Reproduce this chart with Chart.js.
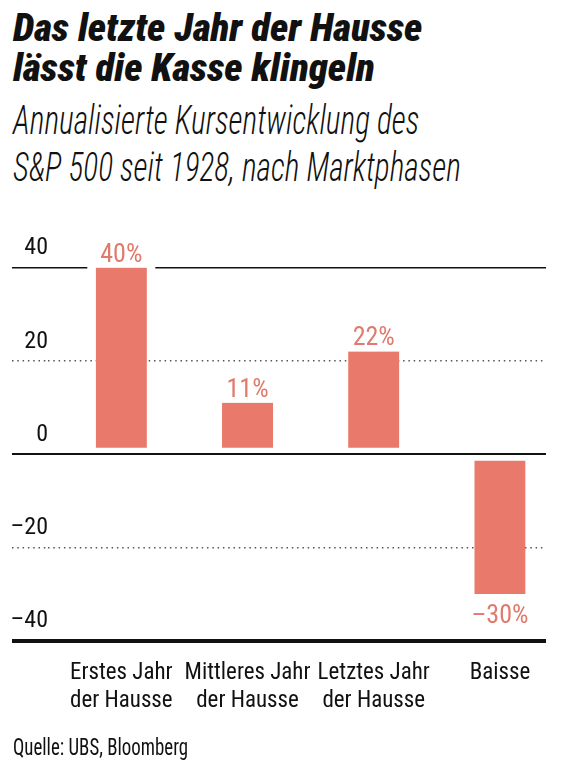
<!DOCTYPE html>
<html lang="de">
<head>
<meta charset="utf-8">
<script src="https://cdn.jsdelivr.net/npm/chart.js@4"></script>
<style>
  html, body { margin: 0; padding: 0; background: #fff; }
  body { width: 588px; height: 771px; position: relative; overflow: hidden;
         font-family: 'Roboto Condensed', 'Roboto', sans-serif; color: #111; }
  .line { position: absolute; left: 13px; white-space: nowrap; transform-origin: 0 50%; }
  .title { font-family: 'Roboto', sans-serif; font-stretch: 75%; font-size: 39px; line-height: 39px;
           font-weight: 900; font-style: italic; }
  .sub { font-family: 'Roboto', sans-serif; font-stretch: 75%; font-size: 40px; line-height: 40px;
         font-weight: 350; font-style: italic; transform: scaleX(0.785); }
  .source { font-size: 23px; line-height: 23px; transform: scaleX(0.82); }
  #wrap { position: absolute; left: 0; top: 200px; width: 588px; height: 540px; }
</style>
</head>
<body>
<div class="line title" style="top:8.9px">Das letzte Jahr der Hausse</div>
<div class="line title" style="top:48.9px">lässt die Kasse klingeln</div>
<div class="line sub" style="top:101.3px">Annualisierte Kursentwicklung des</div>
<div class="line sub" style="top:148px">S&amp;P 500 seit 1928, nach Marktphasen</div>
<div id="wrap"><canvas id="chart"></canvas></div>
<div class="line source" style="top:735.6px">Quelle: UBS, Bloomberg</div>

<script>
const categories = [
  ['Erstes Jahr', 'der Hausse'],
  ['Mittleres Jahr', 'der Hausse'],
  ['Letztes Jahr', 'der Hausse'],
  ['Baisse']
];
const values = [40, 11, 22, -30];
const yTicks = [-40, -20, 0, 20, 40];

const FONT = "'Roboto Condensed', 'Roboto', sans-serif";
const BAR = '#e8796b';
const LABEL = '#e07a6d';

function signed(value) {
  return value < 0 ? '\u2013' + Math.abs(value) : String(value);
}

function isDotted(ctx) {
  return ctx.tick && Math.abs(ctx.tick.value) === 20;
}

function ruleWidth(ctx) {
  if (!ctx.tick) return 1;
  const v = ctx.tick.value;
  if (v === -40) return 4;
  if (v === 0) return 2;
  return 1.5;
}

// value labels with a white box behind, so the rule at 40 breaks around the label
const valueLabels = {
  id: 'valueLabels',
  beforeDatasetsDraw(chart) {
    const ctx = chart.ctx;
    ctx.save();
    ctx.fillStyle = '#fff';
    chart.getDatasetMeta(0).data.forEach((bar, i) => {
      if (values[i] >= 0) ctx.fillRect(bar.x - 34, bar.y - 30, 68, 32);
      else ctx.fillRect(bar.x - 34, bar.y + 2, 68, 32);
    });
    ctx.restore();
  },
  afterDatasetsDraw(chart) {
    const ctx = chart.ctx;
    ctx.save();
    ctx.fillStyle = LABEL;
    ctx.font = '26px ' + FONT;
    ctx.textAlign = 'center';
    ctx.textBaseline = 'alphabetic';
    chart.getDatasetMeta(0).data.forEach((bar, i) => {
      const text = signed(values[i]) + '%';
      const y = values[i] >= 0 ? bar.y - 6 : bar.y + 29;
      ctx.fillText(text, bar.x, y);
    });
    ctx.restore();
  }
};

new Chart(document.getElementById('chart'), {
  type: 'bar',
  data: {
    datasets: [{
      data: values.map((v, i) => ({ x: i, y: v })),
      backgroundColor: BAR,
      borderColor: 'transparent',
      borderSkipped: false,
      borderWidth: (ctx) => {
        const v = ctx.parsed ? ctx.parsed.y : 0;
        return v >= 0 ? { top: 0, right: 0, bottom: 5.7, left: 0 } : { top: 6, right: 0, bottom: 0, left: 0 };
      },
      barThickness: 51
    }]
  },
  options: {
    responsive: true,
    maintainAspectRatio: false,
    animation: false,
    layout: { padding: { top: 67.5, right: 42, bottom: 19.25, left: 12 } },
    plugins: { legend: { display: false }, tooltip: { enabled: false } },
    scales: {
      x: {
        type: 'linear',
        offset: false,
        min: -0.581,
        max: 3.365,
        afterFit: (scale) => { scale.height = 80; },
        grid: { display: false, drawTicks: false },
        border: { display: false },
        ticks: {
          stepSize: 1,
          includeBounds: false,
          padding: 19,
          maxRotation: 0,
          autoSkip: false,
          color: '#111',
          font: { family: FONT, size: 23, lineHeight: 1.2 },
          callback: (value) => categories[value] || ''
        }
      },
      y: {
        min: yTicks[0],
        max: yTicks[yTicks.length - 1],
        afterFit: (scale) => { scale.width = 36; },
        afterBuildTicks: (scale) => { scale.ticks = yTicks.map((v) => ({ value: v })); },
        grid: {
          tickLength: 36,
          color: (ctx) => isDotted(ctx) ? '#555' : '#111',
          lineWidth: ruleWidth,
          tickColor: (ctx) => isDotted(ctx) ? '#555' : '#111',
          tickWidth: ruleWidth,
          tickBorderDash: (ctx) => isDotted(ctx) ? [1.5, 3.8] : []
        },
        border: {
          display: false,
          dash: (ctx) => isDotted(ctx) ? [1.5, 3.8] : []
        },
        ticks: {
          padding: -36,
          labelOffset: -19.3,
          color: '#111',
          font: { family: FONT, size: 24 },
          callback: (value) => signed(value)
        }
      }
    }
  },
  plugins: [valueLabels]
});
</script>
</body>
</html>
